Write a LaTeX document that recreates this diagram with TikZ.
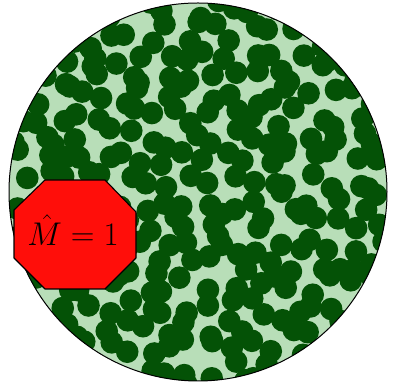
\documentclass[tikz,border=0pt]{standalone}
\usepackage{amsmath}
\usetikzlibrary{calc}
\definecolor{lightg}{RGB}{184,222,184}
\definecolor{darkg}{RGB}{4,82,6}
\definecolor{octred}{RGB}{255,14,10}
\tikzset{
  disk/.style={fill=darkg},
  rim/.style={draw=black,line width=1pt},
  octo/.style={draw=black,fill=octred,line width=1.1pt,line join=round}
}
\begin{document}
\begin{tikzpicture}[x=1pt,y=1pt]
\useasboundingbox (0,0) rectangle (394,387);
\coordinate (c) at (198,195);
\fill[lightg] (c) circle (189);
\begin{scope}
\clip (c) circle (189);
\pgfmathsetseed{2468}
\foreach \i in {0,...,19}{
  \foreach \j in {0,...,19}{
    \pgfmathsetmacro{\xx}{0+\i*21+20*(rnd-0.5)}
    \pgfmathsetmacro{\yy}{-3+\j*21+20*(rnd-0.5)}
    \fill[disk] (\xx,\yy) circle (11.3);
  }
}
\end{scope}
\draw[rim] (c) circle (189);
\draw[octo] (45,207) -- (105,207) -- (136,175) -- (136,129) -- (105,98) -- (45,98) -- (14,129) -- (14,177) -- cycle;
\node[anchor=base,inner sep=0pt,font=\Huge,scale=1.32] (lab) at (73,141) {$\hat{M}=1$};
\end{tikzpicture}
\end{document}
